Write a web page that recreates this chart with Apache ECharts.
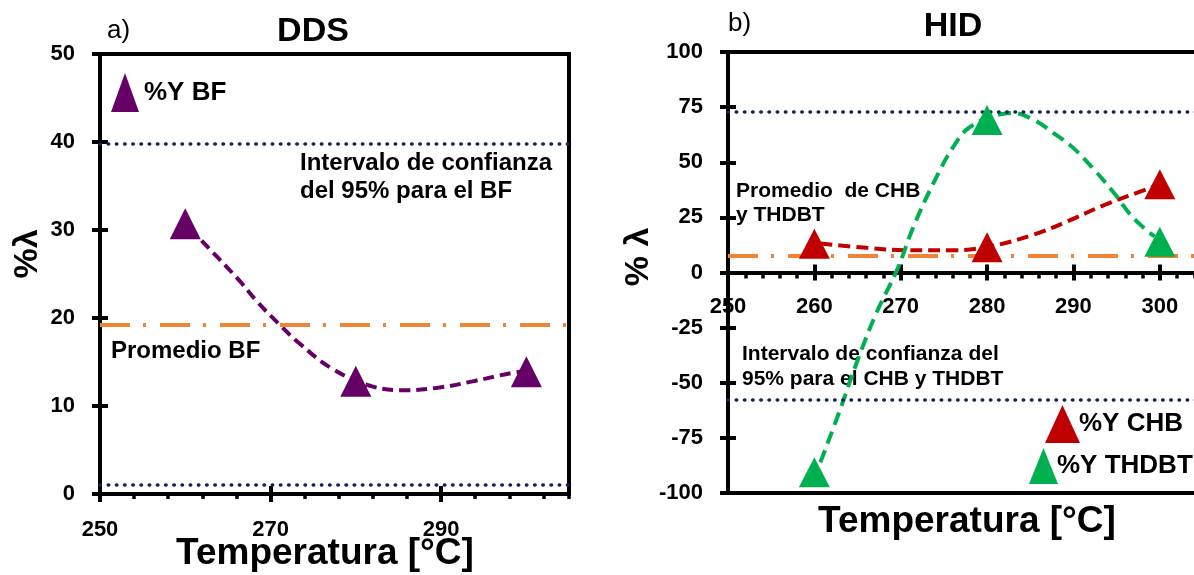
<!DOCTYPE html>
<html>
<head>
<meta charset="utf-8">
<script src="https://cdn.jsdelivr.net/npm/echarts@6/dist/echarts.min.js"></script>
<style>
  html, body { margin: 0; padding: 0; background: #fff; }
  #chart { width: 1194px; height: 575px; }
</style>
</head>
<body>
<div id="chart"></div>
<script>
// ---------- DATA ----------
// Panel a) DDS
const xTicksA = [250, 270, 290];
const yTicksA = [0, 10, 20, 30, 40, 50];
const tempA = [260, 280, 300];
const bfY = [30.7, 12.8, 13.9];
const trendBF_T = [260.5, 261.6, 266.3, 268.3, 271.1, 273.4, 277.3, 282, 285.9, 289.8, 293.7, 298, 300];
const trendBF_V = [30.2, 29.1, 24.3, 22.0, 19.2, 17.1, 14.2, 12.2, 11.8, 12.1, 12.8, 13.7, 14.0];
const ciBF = [39.8, 1.1];
const meanBF = [19.2];

// Panel b) HID
const xTicksB = [250, 260, 270, 280, 290, 300];
const yTicksB = [-100, -75, -50, -25, 0, 25, 50, 75, 100];
const tempB = [260, 280, 300];
const chbY = [13.0, 11.5, 40.0];
const thdbtY = [-90.6, 69.2, 14.0];
const trendCHB_T = [260.7, 266.1, 270.7, 275.8, 280.4, 285.4, 289.3, 293.2, 296.2, 299.7];
const trendCHB_V = [13.1, 11.2, 10.1, 10.1, 11.9, 17.2, 23.2, 30.0, 34.5, 39.4];
const trendTHDBT_T = [260.7, 263.0, 264.9, 267.2, 269.6, 271.5, 273.8, 276.1, 278.1, 281.9, 283.1, 285.4, 287.7, 290.0, 292.4, 294.7, 296.6, 298.6, 299.4];
const trendTHDBT_V = [-86.1, -62.0, -40.9, -18.2, 1.4, 21.0, 40.6, 57.1, 66.2, 72.0, 72.3, 69.2, 63.2, 56.4, 46.6, 36.1, 26.2, 18.7, 16.4];
const ciHID = [72.7, -57.6];
const meanHID = [7.7];

// ---------- STYLE ----------
const FONT = '"Liberation Sans", Arial, sans-serif';
const PURPLE = '#660066', RED = '#C00000', GREEN = '#00B050';
const NAVY = '#10245a', ORANGE = '#EE8434';
const zip = (a, b) => a.map((v, i) => [v, b[i]]);

const GRID_A = { left: 100, top: 54, width: 469, height: 440 };
const GRID_B = { left: 728, top: 52, width: 475, height: 441 };

// offset < 0 lifts the x axis from the grid bottom to where y = 0 sits (panel b is symmetric)
function xAxesFor(grid, ticks, maxV, minorStep, minorLen, labelMargin, offset) {
  const step = ticks[1] - ticks[0];
  const base = { type: 'value', gridIndex: grid, min: ticks[0], max: maxV, position: 'bottom',
    offset: offset, splitLine: { show: false } };
  return [
    Object.assign({}, base, { interval: step,
      axisLine: { show: true, onZero: false, lineStyle: { color: '#000', width: 4 } },
      axisTick: { show: true, inside: false, length: 8, lineStyle: { color: '#000', width: 4 } },
      axisLabel: { show: true, margin: labelMargin, showMaxLabel: false, color: '#000',
        fontFamily: FONT, fontWeight: 'bold', fontSize: 22 } }),
    Object.assign({}, base, { interval: step,
      axisLine: { show: false, onZero: false },
      axisTick: { show: true, inside: true, length: 8, lineStyle: { color: '#000', width: 4 } },
      axisLabel: { show: false } }),
    Object.assign({}, base, { interval: minorStep,
      axisLine: { show: false, onZero: false },
      axisTick: { show: true, inside: false, length: minorLen, lineStyle: { color: '#000', width: 3.5 } },
      axisLabel: { show: false } })
  ];
}
function yAxesFor(grid, ticks, labelMargin) {
  const step = ticks[1] - ticks[0];
  const base = { type: 'value', gridIndex: grid, min: ticks[0], max: ticks[ticks.length - 1],
    interval: step, position: 'left', splitLine: { show: false } };
  return [
    Object.assign({}, base, {
      axisLine: { show: true, onZero: false, lineStyle: { color: '#000', width: 4 } },
      axisTick: { show: true, inside: false, length: 8, lineStyle: { color: '#000', width: 4 } },
      axisLabel: { show: true, margin: labelMargin, color: '#000', fontFamily: FONT,
        fontWeight: 'bold', fontSize: 22 } }),
    Object.assign({}, base, {
      axisLine: { show: false, onZero: false },
      axisTick: { show: true, inside: true, length: 8, lineStyle: { color: '#000', width: 4 } },
      axisLabel: { show: false } })
  ];
}

function refLines(ci, mean) {
  return {
    silent: true, symbol: 'none', label: { show: false }, animation: false,
    data: [
      { yAxis: ci[0], lineStyle: { color: NAVY, width: 3.5, type: [0.5, 7.7], cap: 'round' } },
      { yAxis: ci[1], lineStyle: { color: NAVY, width: 3.5, type: [0.5, 7.7], cap: 'round' } },
      { yAxis: mean[0], lineStyle: { color: ORANGE, width: 4, type: [30, 13, 3, 14] } }
    ]
  };
}

const legendText = { color: '#000', fontFamily: FONT, fontWeight: 'bold', fontSize: 26 };

const option = {
  animation: false,
  backgroundColor: '#fff',
  grid: [
    Object.assign({ show: true, borderColor: '#000', borderWidth: 4, backgroundColor: 'transparent', outerBoundsMode: 'none' }, GRID_A),
    Object.assign({ show: true, borderColor: '#000', borderWidth: 4, backgroundColor: 'transparent', outerBoundsMode: 'none' }, GRID_B)
  ],
  xAxis: [].concat(
    xAxesFor(0, xTicksA, 305, 4, 5, 25, 0),
    xAxesFor(1, xTicksB, 305, 2, 6, 23, -GRID_B.height / 2)
  ),
  yAxis: [].concat(
    yAxesFor(0, yTicksA, 25),
    yAxesFor(1, yTicksB, 25)
  ),
  legend: [
    { data: [{ name: '%Y BF', icon: 'triangle', itemStyle: { color: PURPLE, opacity: 1 } }], left: 111, top: 73, padding: 0,
      itemWidth: 28, itemHeight: 39, selectedMode: false, textStyle: legendText },
    { data: [{ name: '%Y CHB', icon: 'triangle', itemStyle: { color: RED, opacity: 1 } }], left: 1045, top: 405, padding: 0,
      itemWidth: 35, itemHeight: 38, selectedMode: false,
      textStyle: Object.assign({ padding: [0, 0, 0, -6] }, legendText) },
    { data: [{ name: '%Y THDBT', icon: 'triangle', itemStyle: { color: GREEN, opacity: 1 } }], left: 1029, top: 448, padding: 0,
      itemWidth: 29, itemHeight: 36, selectedMode: false,
      textStyle: Object.assign({ padding: [0, 0, 0, -6] }, legendText) }
  ],
  series: [
    // panel a
    { type: 'line', name: 'refA', xAxisIndex: 0, yAxisIndex: 0, data: [], z: 1,
      markLine: refLines(ciBF, meanBF) },
    { type: 'line', name: 'trendBF', xAxisIndex: 0, yAxisIndex: 0, data: zip(trendBF_T, trendBF_V),
      smooth: 0.4, showSymbol: false, z: 3,
      lineStyle: { color: PURPLE, width: 4, type: [11, 6] } },
    { type: 'scatter', name: '%Y BF', xAxisIndex: 0, yAxisIndex: 0, data: zip(tempA, bfY),
      symbol: 'triangle', symbolSize: [31, 31], z: 5, itemStyle: { color: PURPLE, opacity: 1 } },
    // panel b
    { type: 'line', name: 'refB', xAxisIndex: 3, yAxisIndex: 2, data: [], z: 1,
      markLine: refLines(ciHID, meanHID) },
    { type: 'line', name: 'trendCHB', xAxisIndex: 3, yAxisIndex: 2, data: zip(trendCHB_T, trendCHB_V),
      smooth: 0.4, showSymbol: false, z: 3,
      lineStyle: { color: RED, width: 4, type: [12, 6] } },
    { type: 'line', name: 'trendTHDBT', xAxisIndex: 3, yAxisIndex: 2, data: zip(trendTHDBT_T, trendTHDBT_V),
      smooth: 0.4, showSymbol: false, z: 4,
      lineStyle: { color: GREEN, width: 4, type: [13, 7] } },
    { type: 'scatter', name: '%Y CHB', xAxisIndex: 3, yAxisIndex: 2, data: zip(tempB, chbY),
      symbol: 'triangle', symbolSize: [31, 30], z: 5, itemStyle: { color: RED, opacity: 1 } },
    { type: 'scatter', name: '%Y THDBT', xAxisIndex: 3, yAxisIndex: 2, data: zip(tempB, thdbtY),
      symbol: 'triangle', symbolSize: [31, 30], z: 5, itemStyle: { color: GREEN, opacity: 1 } }
  ],
  graphic: [
    // panel a texts
    { type: 'text', x: 107, y: 31, style: { text: 'a)', font: '26px ' + FONT, fill: '#000', textVerticalAlign: 'middle' } },
    { type: 'text', x: 313, y: 32, style: { text: 'DDS', font: 'bold 34px ' + FONT, fill: '#000', textAlign: 'center', textVerticalAlign: 'middle' } },
    { type: 'text', x: 300, y: 177, style: { text: 'Intervalo de confianza\ndel 95% para el BF', font: 'bold 24px ' + FONT, lineHeight: 28, fill: '#000', textVerticalAlign: 'middle' } },
    { type: 'text', x: 111, y: 351, style: { text: 'Promedio BF', font: 'bold 24px ' + FONT, fill: '#000', textVerticalAlign: 'middle' } },
    { type: 'text', x: 28, y: 254, rotation: Math.PI / 2, style: { text: '%λ', font: 'bold 34px ' + FONT, fill: '#000', textAlign: 'center', textVerticalAlign: 'middle' } },
    { type: 'text', x: 325, y: 554, style: { text: 'Temperatura [°C]', font: 'bold 37px ' + FONT, fill: '#000', textAlign: 'center', textVerticalAlign: 'middle' } },
    // panel b texts
    { type: 'text', x: 728, y: 24, style: { text: 'b)', font: '26px ' + FONT, fill: '#000', textVerticalAlign: 'middle' } },
    { type: 'text', x: 953, y: 27, style: { text: 'HID', font: 'bold 34px ' + FONT, fill: '#000', textAlign: 'center', textVerticalAlign: 'middle' } },
    { type: 'text', x: 736, y: 203, style: { text: 'Promedio  de CHB\ny THDBT', font: 'bold 21px ' + FONT, lineHeight: 24, fill: '#000', textVerticalAlign: 'middle' } },
    { type: 'text', x: 742, y: 367, style: { text: 'Intervalo de confianza del\n95% para el CHB y THDBT', font: 'bold 21px ' + FONT, lineHeight: 25, fill: '#000', textVerticalAlign: 'middle' } },
    { type: 'text', x: 639, y: 257, rotation: Math.PI / 2, style: { text: '% λ', font: 'bold 34px ' + FONT, fill: '#000', textAlign: 'center', textVerticalAlign: 'middle' } },
    { type: 'text', x: 967, y: 522, style: { text: 'Temperatura [°C]', font: 'bold 37px ' + FONT, fill: '#000', textAlign: 'center', textVerticalAlign: 'middle' } }
  ]
};

const chart = echarts.init(document.getElementById('chart'), null, { renderer: 'canvas' });
chart.setOption(option);
</script>
</body>
</html>
